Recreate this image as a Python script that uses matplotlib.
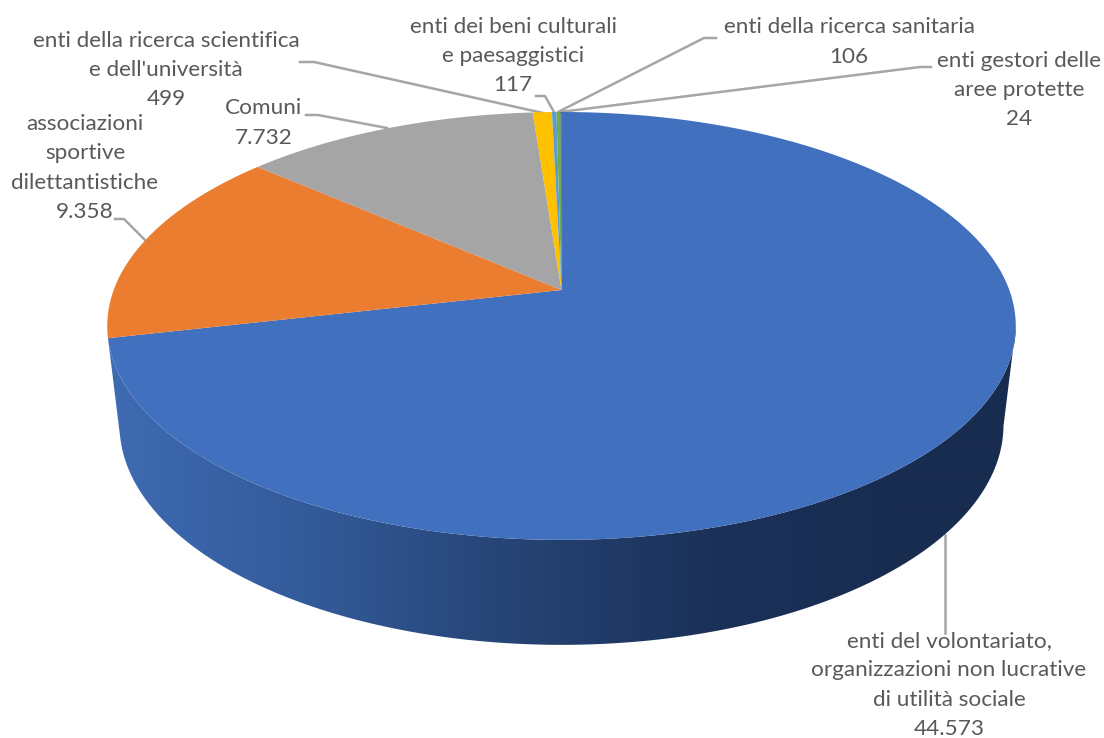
import numpy as np
import matplotlib
matplotlib.use('Agg')
import matplotlib.pyplot as plt
from matplotlib.patches import Polygon
from matplotlib.colors import LinearSegmentedColormap

# valori delle fette, in senso orario dalle ore 12
values = [44573, 9358, 7732, 499, 117, 106, 24]
value_labels = ['44.573', '9.358', '7.732', '499', '117', '106', '24']
names = [
    ['enti del volontariato,', 'organizzazioni non lucrative', 'di utilità sociale'],
    ['associazioni', 'sportive', 'dilettantistiche'],
    ['Comuni'],
    ['enti della ricerca scientifica', "e dell'università"],
    ['enti dei beni culturali', 'e paesaggistici'],
    ['enti della ricerca sanitaria'],
    ['enti gestori delle', 'aree protette'],
]
colors = ['#4170BE', '#EB7D30', '#A5A5A5', '#FFC000', '#5B9BD5', '#70AD47', '#264478']

# posizione etichette (centro x, centro y) in pixel
label_pos = [(949, 685), (85, 168), (264, 123), (166, 70), (513, 56), (849, 42), (1019, 90)]

# linee guida
leaders = [
    [(945, 633), (945, 535)],
    [(115, 219), (124, 219), (145, 240)],
    [(306, 115), (318, 115), (387, 128)],
    [(300, 62), (314, 62), (543, 113)],
    [(536, 96), (545, 96), (554, 112)],
    [(716, 38), (704, 38), (558, 112)],
    [(931, 67), (920, 67), (560, 112)],
]

K = 0.168  # prospettiva
LINE_H = 29.3


def project(theta, apex_y, a, b, cx=561.5):
    u = np.sin(theta)
    v = np.cos(theta)
    d = 1 + K * v
    return cx + a * u / d, apex_y - b * v / d


TOP = dict(apex_y=290, a=447.8, b=207.9)
BOTTOM = dict(apex_y=388, a=435.7, b=213.7)

angles = np.cumsum([0] + values) / sum(values) * 2 * np.pi

fig = plt.figure(figsize=(11.04, 7.38), dpi=100, facecolor='white')
ax = fig.add_axes([0, 0, 1, 1])

# linee sotto la torta
for pts in leaders:
    xs, ys = zip(*pts)
    ax.plot(xs, ys, color='#A6A6A6', lw=1.8, zorder=1, solid_joinstyle='round')

# fianco con sfumatura
side_cmap = LinearSegmentedColormap.from_list(
    'side', [(0, '#3F6BB3'), (0.25, '#335A99'), (0.5, '#264475'), (0.75, '#1B3159'), (1, '#182C50')])
t = np.linspace(np.radians(100), angles[1], 500)
x1, y1 = project(t, **TOP)
x2, y2 = project(t, **BOTTOM)
outline = np.r_[np.c_[x1, y1], np.c_[x2, y2][::-1]]
side = Polygon(outline, closed=True, fc='none', ec='none', transform=ax.transData)
ax.add_patch(side)
grad = np.clip((np.arange(0, 1104) - 110) / 800, 0, 1).reshape(1, -1)
im = ax.imshow(grad, extent=(0, 1104, 738, 0), cmap=side_cmap, aspect='auto', zorder=2,
               interpolation='bilinear')
im.set_clip_path(side)

# faccia superiore
for i in range(len(values)):
    n = max(int((angles[i + 1] - angles[i]) * 120), 3)
    th = np.linspace(angles[i], angles[i + 1], n)
    xs, ys = project(th, **TOP)
    ax.fill(np.r_[561.5, xs], np.r_[290, ys], color=colors[i], lw=0, zorder=3)

# etichette, una riga alla volta
for name, val, (lx, ly) in zip(names, value_labels, label_pos):
    lines = name + [val]
    for j, line in enumerate(lines):
        y = ly + (j - (len(lines) - 1) / 2) * LINE_H + 6
        ax.text(lx, y, line, ha='center', va='baseline', family='Lato', fontsize=16.2,
                color='#595959', zorder=4)

ax.set_xlim(0, 1104)
ax.set_ylim(738, 0)
ax.axis('off')

fig.savefig('out.png', dpi=100, facecolor='white')
